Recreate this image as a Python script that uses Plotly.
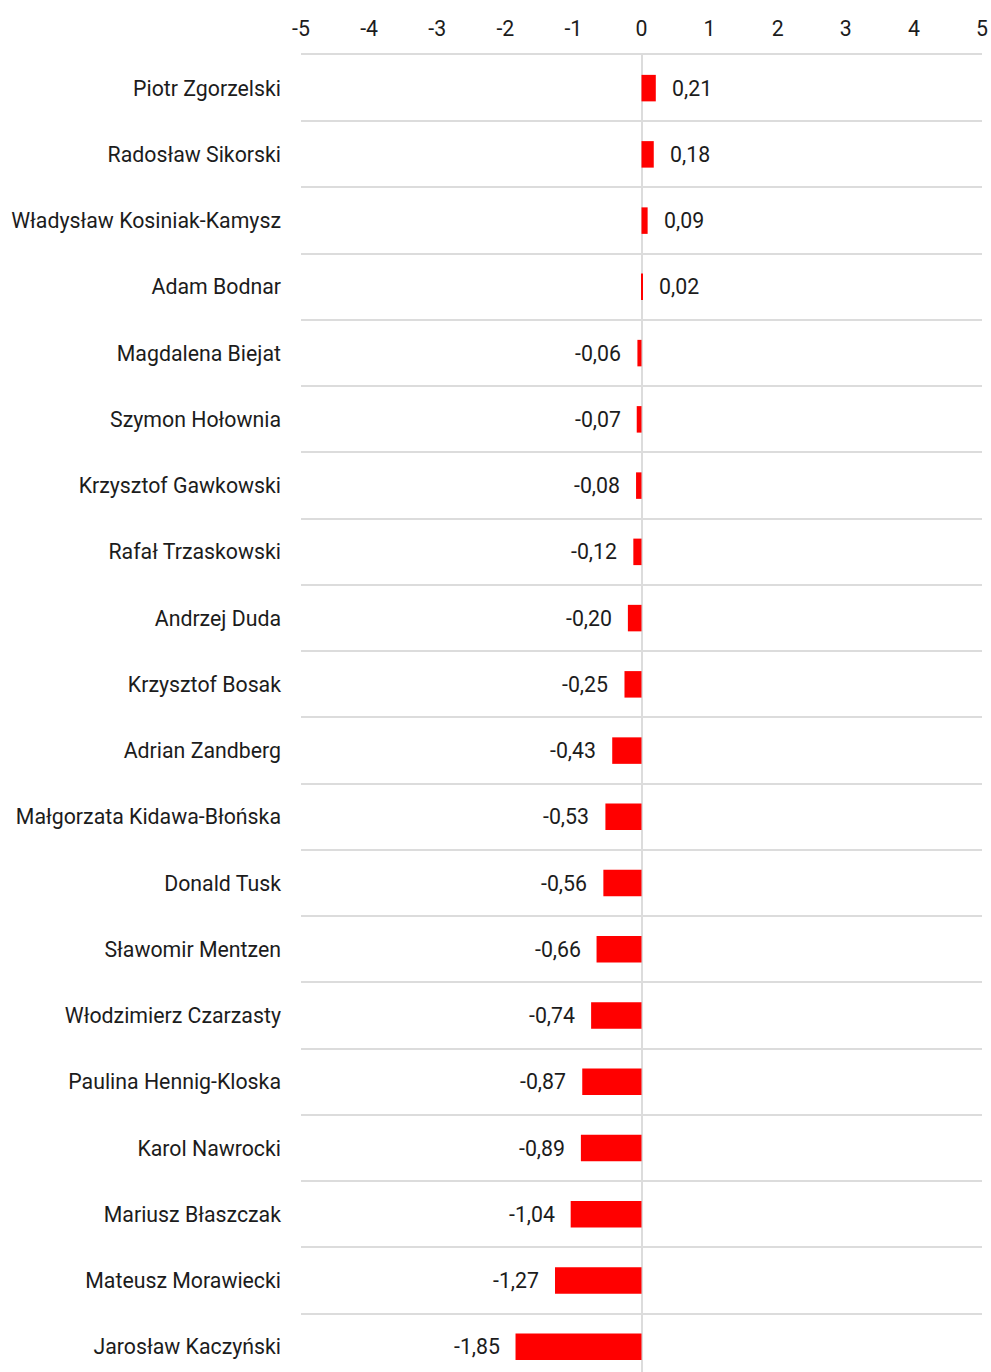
import plotly.graph_objects as go

names = ["Piotr Zgorzelski", "Radosław Sikorski", "Władysław Kosiniak-Kamysz", "Adam Bodnar",
         "Magdalena Biejat", "Szymon Hołownia", "Krzysztof Gawkowski", "Rafał Trzaskowski",
         "Andrzej Duda", "Krzysztof Bosak", "Adrian Zandberg", "Małgorzata Kidawa-Błońska",
         "Donald Tusk", "Sławomir Mentzen", "Włodzimierz Czarzasty", "Paulina Hennig-Kloska",
         "Karol Nawrocki", "Mariusz Błaszczak", "Mateusz Morawiecki", "Jarosław Kaczyński"]
values = [0.21, 0.18, 0.09, 0.02, -0.06, -0.07, -0.08, -0.12, -0.20, -0.25, -0.43, -0.53,
          -0.56, -0.66, -0.74, -0.87, -0.89, -1.04, -1.27, -1.85]
tick_vals = [-5, -4, -3, -2, -1, 0, 1, 2, 3, 4, 5]

labels = [f"{v:.2f}".replace(".", ",") for v in values]

FS = 21.3
TXT = "#1c1c1c"

fig = go.Figure(go.Bar(
    x=values, y=names, orientation="h",
    marker=dict(color="#ff0000", line=dict(width=0)),
    width=0.4, hoverinfo="skip",
))

for n, v, t in zip(names, values, labels):
    fig.add_annotation(
        x=v, y=n, text=t, showarrow=False,
        xanchor="left" if v >= 0 else "right",
        xshift=14 if v >= 0 else -14,
        font=dict(family="Roboto", size=FS, color=TXT),
    )

fig.update_layout(
    width=991, height=1372,
    margin=dict(l=301, r=9, t=55, b=0),
    paper_bgcolor="white", plot_bgcolor="white",
    showlegend=False,
    font=dict(family="Roboto", size=FS, color=TXT),
)
fig.update_xaxes(
    side="top", range=[-5, 5], tickvals=tick_vals,
    ticktext=[str(t) for t in tick_vals],
    showgrid=False, zeroline=True, zerolinecolor="#dcdcdc", zerolinewidth=2,
    showline=True, linecolor="#dcdcdc", linewidth=2,
    ticks="", ticklabelstandoff=8, automargin=False,
    fixedrange=True,
)
fig.update_yaxes(
    categoryorder="array", categoryarray=names,
    range=[19.38, -0.5], tickson="boundaries",
    showgrid=True, gridcolor="#dcdcdc", gridwidth=2,
    ticks="", showline=False, zeroline=False,
    ticklabelstandoff=19, automargin=False, fixedrange=True,
)

fig.write_html("out.html", config={"displayModeBar": False},
               post_script="document.body.style.margin='0';document.body.style.overflow='hidden';")
